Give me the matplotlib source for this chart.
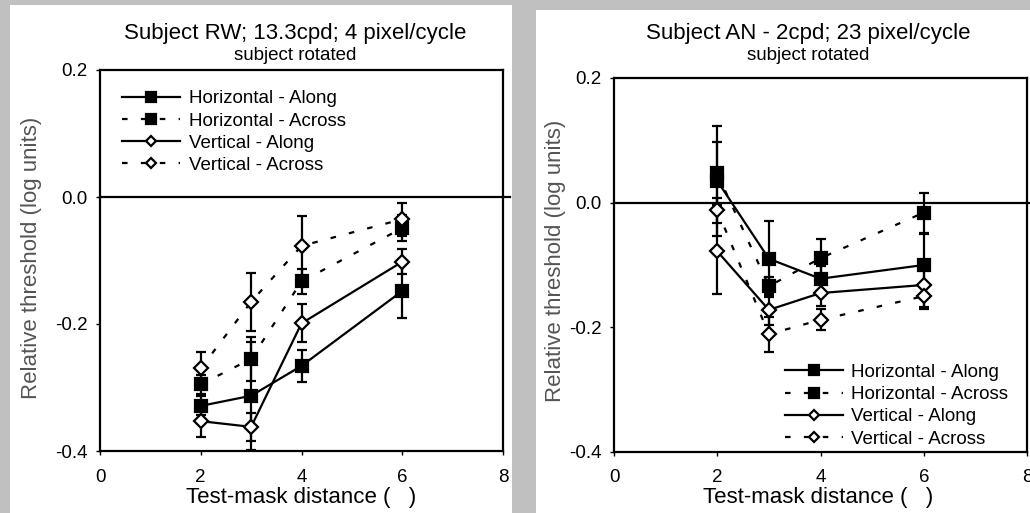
import matplotlib
matplotlib.use("Agg")
import matplotlib.pyplot as plt
from matplotlib.patches import Rectangle

plt.rcParams['font.family'] = ['Liberation Sans', 'DejaVu Sans']

# ---------------- data ----------------
distances = [2, 3, 4, 6]
series_labels = ["Horizontal - Along", "Horizontal - Across",
                 "Vertical - Along", "Vertical - Across"]

# Subject RW
rw_h_along = [-0.329, -0.313, -0.266, -0.148]
rw_h_along_err = [0.015, 0.085, 0.025, 0.043]
rw_h_across = [-0.295, -0.255, -0.133, -0.049]
rw_h_across_err = [0.015, 0.035, 0.02, 0.02]
rw_v_along = [-0.353, -0.362, -0.199, -0.102]
rw_v_along_err = [0.025, 0.022, 0.03, 0.02]
rw_v_across = [-0.270, -0.165, -0.077, -0.035]
rw_v_across_err = [0.026, 0.046, 0.047, 0.026]

# Subject AN
an_h_along = [0.035, -0.090, -0.122, -0.100]
an_h_along_err = [0.088, 0.061, 0.02, 0.05]
an_h_across = [0.047, -0.134, -0.089, -0.016]
an_h_across_err = [0.05, 0.015, 0.03, 0.032]
an_v_along = [-0.078, -0.172, -0.145, -0.132]
an_v_along_err = [0.068, 0.025, 0.021, 0.035]
an_v_across = [-0.012, -0.211, -0.188, -0.150]
an_v_across_err = [0.02, 0.028, 0.017, 0.02]

x_ticks = [0, 2, 4, 6, 8]
y_ticks = [0.2, 0.0, -0.2, -0.4]
y_ticklabels = ["0.2", "0.0", "-0.2", "-0.4"]

# ---------------- figure ----------------
W, H = 1030, 513
fig = plt.figure(figsize=(W / 100, H / 100), dpi=100)
fig.patch.set_facecolor('#c0c0c0')

def px_rect(x0, y0, x1, y1):
    return [x0 / W, 1 - y1 / H, (x1 - x0) / W, (y1 - y0) / H]

# white panels
for (x0, y0, x1, y1) in [(10, 5, 512, 513), (536, 10, 1030, 513)]:
    fig.add_artist(Rectangle((x0 / W, 1 - y1 / H), (x1 - x0) / W, (y1 - y0) / H,
                             transform=fig.transFigure, facecolor='white',
                             edgecolor='none', zorder=-10))

dash = (0, (2.5, 6.0))
styles = [
    dict(marker='s', linestyle='-', mfc='black', ms=9),
    dict(marker='s', linestyle=dash, mfc='black', ms=9),
    dict(marker='D', linestyle='-', mfc='white', ms=7),
    dict(marker='D', linestyle=dash, mfc='white', ms=7),
]

def panel(rect, data, title, subtitle, title_x, ylab_x, ylab_y, legend_kw,
          zero_end, xpad):
    ax = fig.add_axes(px_rect(*rect))
    ax.set_facecolor('none')
    handles = []
    for (vals, errs), st, lab in zip(data, styles, series_labels):
        ax.errorbar(distances, vals, yerr=errs, color='black', ecolor='black',
                    elinewidth=1.6, capsize=3.8, capthick=1.6, lw=1.6,
                    linestyle=st['linestyle'], marker=st['marker'],
                    mfc=st['mfc'], mec='black', mew=1.6, ms=st['ms'])
        h, = ax.plot([], [], color='black', lw=1.6, linestyle=st['linestyle'],
                     marker=st['marker'], mfc=st['mfc'], mec='black', mew=1.6,
                     ms=st['ms'] * 0.78, label=lab)
        handles.append(h)
    ax.plot([0, zero_end], [0, 0], color='black', lw=1.6, clip_on=False, zorder=1)
    ax.set_xlim(0, 8)
    ax.set_ylim(-0.4, 0.2)
    ax.set_xticks(x_ticks)
    ax.set_xticklabels([str(t) for t in x_ticks])
    ax.set_yticks(y_ticks)
    ax.set_yticklabels(y_ticklabels)
    for s in ax.spines.values():
        s.set_linewidth(1.6)
        s.set_color('black')
    ax.tick_params(axis='both', labelsize=13.5, colors='black', width=1.0, length=3,
                   direction='out')
    ax.tick_params(axis='x', pad=xpad)
    ax.tick_params(axis='y', pad=6)
    ax.legend(handles=handles, frameon=False, fontsize=13.5,
              handlelength=3.1, handletextpad=0.45, labelspacing=0.27,
              borderpad=0, borderaxespad=0, **legend_kw)
    fig.text(title_x / W, 1 - 33 / H, title, ha='center', va='center', fontsize=16)
    fig.text(title_x / W, 1 - 56 / H, subtitle, ha='center', va='center', fontsize=13.5)
    fig.text(ylab_x / W, 1 - ylab_y / H, "Relative threshold (log units)",
             rotation=90, ha='center', va='center', fontsize=16, color='#555555')
    return ax

ax1 = panel((100, 70, 503, 451),
            [(rw_h_along, rw_h_along_err), (rw_h_across, rw_h_across_err),
             (rw_v_along, rw_v_along_err), (rw_v_across, rw_v_across_err)],
            "Subject RW; 13.3cpd; 4 pixel/cycle", "subject rotated",
            295, 32, 258,
            dict(loc='upper left', bbox_to_anchor=(0.055, 0.947)), 8.14, 10)
fig.text(301 / W, 1 - 497 / H, "Test-mask distance (   )", ha='center', va='center',
         fontsize=16)

ax2 = panel((614, 78, 1027, 452),
            [(an_h_along, an_h_along_err), (an_h_across, an_h_across_err),
             (an_v_along, an_v_along_err), (an_v_across, an_v_across_err)],
            "Subject AN - 2cpd; 23 pixel/cycle", "subject rotated",
            808, 555, 261,
            dict(loc='lower left', bbox_to_anchor=(0.413, 0.012)), 8.1, 9.5)
fig.text(818 / W, 1 - 498 / H, "Test-mask distance (   )", ha='center', va='center',
         fontsize=16)

fig.savefig("out.png", dpi=100, facecolor=fig.get_facecolor())
